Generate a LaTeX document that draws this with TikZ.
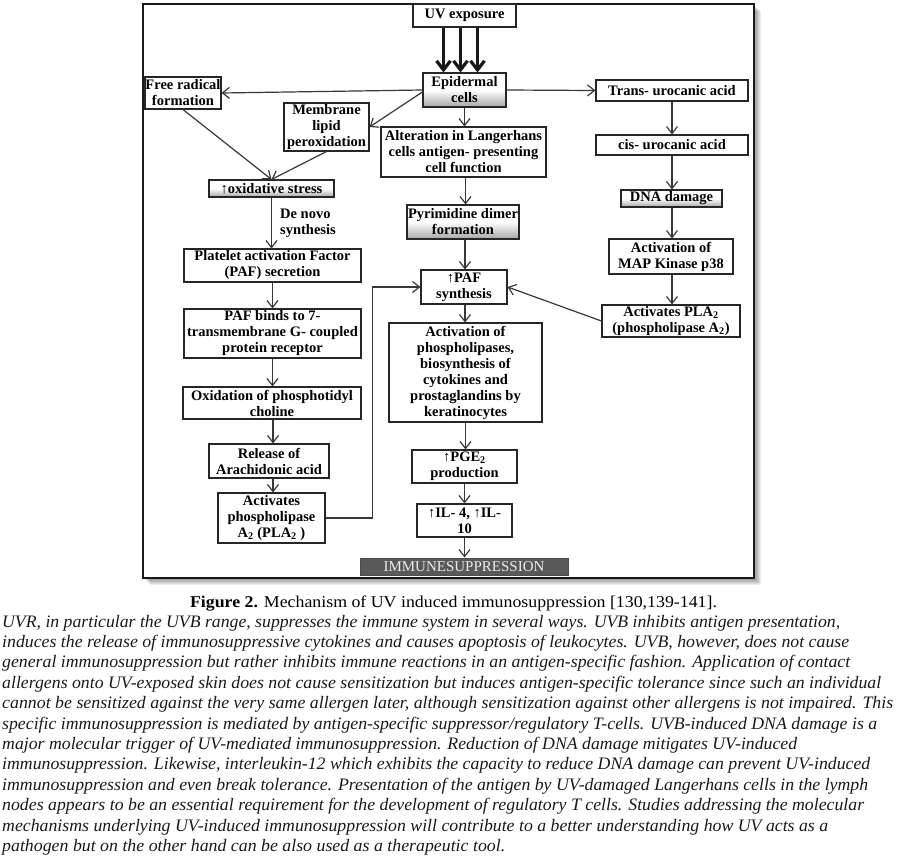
\documentclass[tikz,border=0pt]{standalone}
\usepackage{fontspec}
\setmainfont{Liberation Serif}
\usepackage{graphicx}
\usetikzlibrary{arrows.meta,calc}
\definecolor{boxc}{HTML}{262626}
\definecolor{linec}{HTML}{383838}
\newlength\fitwd
\newcommand\fitline[2]{\settowidth\fitwd{#2}\pgfmathsetmacro\fitsx{#1/\fitwd}\scalebox{\fitsx}[1]{#2}}
\newcommand\diagfont{\fontsize{14.5}{16}\selectfont\bfseries}
\newcommand\bodyfnt{\fontsize{17.5}{20}\selectfont\itshape}
\tikzset{
  box/.style={draw=boxc, line width=1.1pt, inner sep=0pt, align=center, font=\diagfont, text=black, fill=white},
  grad/.style={box, top color=white, bottom color=black!35, middle color=white},
  conn/.style={draw=linec, line width=1.2pt, -{Straight Barb[length=7pt,width=11pt]}},
  uvarrow/.style={draw=black!90, line width=3.2pt, -{Straight Barb[length=9pt,width=14pt]}},
  bodyline/.style={anchor=base west, inner sep=0pt, font=\bodyfnt, text=black!90},
}
\begin{document}
\begin{tikzpicture}[x=1pt,y=-1pt]
\useasboundingbox (0,0) rectangle (902,862);
% frame with shadow
\foreach \d in {7,6,5,4,3,2} {
  \fill[black,opacity=0.07] ({143+\d},{4+\d}) rectangle ({754+\d},{578+\d});
}
\draw[fill=white, line width=1.3pt, draw=black!90] (143,4) rectangle (754,578);

% nodes
\node[box, minimum width=103pt, minimum height=23pt] (uv) at (464.5,15.5) {UV exposure};
\node[grad, minimum width=83pt, minimum height=34pt] (epi) at (464.5,90) {Epidermal\\cells};
\node[box, minimum width=76pt, minimum height=32pt] (free) at (183,93) {Free radical\\formation};
\node[box, minimum width=85pt, minimum height=48pt] (mem) at (326.5,127) {Membrane\\lipid\\peroxidation};
\node[box, minimum width=152pt, minimum height=21pt] (trans) at (672,90.5) {Trans- urocanic acid};
\node[box, minimum width=165pt, minimum height=50pt] (alt) at (463.5,152) {Alteration in Langerhans\\cells antigen- presenting\\cell function};
\node[box, minimum width=152pt, minimum height=20pt] (cis) at (672,145) {cis- urocanic acid};
\node[grad, minimum width=125pt, minimum height=17pt] (ox) at (271.5,188.5) {↑oxidative stress};
\node[grad, minimum width=101pt, minimum height=17pt] (dna) at (671.5,198.5) {DNA damage};
\node[grad, minimum width=112pt, minimum height=34pt] (pyr) at (463,222) {Pyrimidine dimer\\formation};
\node[box, minimum width=124pt, minimum height=35pt] (map) at (671,256.5) {Activation of\\MAP Kinase p38};
\node[box, minimum width=177pt, minimum height=33pt] (paf) at (272.5,265.5) {Platelet activation Factor\\(PAF) secretion};
\node[box, minimum width=86pt, minimum height=34pt] (pafs) at (464,287) {↑PAF\\synthesis};
\node[box, minimum width=138pt, minimum height=32pt] (pla) at (671,321) {Activates PLA\textsubscript{2}\\(phospholipase A\textsubscript{2})};
\node[box, minimum width=177pt, minimum height=49pt] (bind) at (272.5,333.5) {PAF binds to 7-\\transmembrane G- coupled\\protein receptor};
\node[box, minimum width=153pt, minimum height=99pt] (actp) at (465.5,372.5) {Activation of\\phospholipases,\\biosynthesis of\\cytokines and\\prostaglandins by\\keratinocytes};
\node[box, minimum width=178pt, minimum height=32pt] (oxid) at (272,403) {Oxidation of phosphotidyl\\choline};
\node[box, minimum width=120pt, minimum height=34pt] (rel) at (269,461) {Release of\\Arachidonic acid};
\node[box, minimum width=105pt, minimum height=33pt] (pge) at (464.5,466.5) {↑PGE\textsubscript{2}\\production};
\node[box, minimum width=107pt, minimum height=50pt] (act2) at (271.5,518) {Activates\\phospholipase\\A\textsubscript{2} (PLA\textsubscript{2} )};
\node[box, minimum width=95pt, minimum height=33pt] (il) at (464.5,520.5) {↑IL- 4, ↑IL-\\10};
\node[draw=black!70, fill=black!65, line width=1pt, inner sep=0pt, minimum width=208pt, minimum height=17pt, text=white!92!black, font=\fontsize{15}{16}\selectfont] (imm) at (464,566.5) {IMMUNESUPPRESSION};
\node[font=\diagfont, align=left, anchor=west, inner sep=0pt] (dn) at (280,223.5) {De novo\\synthesis};

% connectors
\draw[uvarrow] ([xshift=-21pt]uv.south) -- ([xshift=-21pt]epi.north);
\draw[uvarrow] ([xshift=-4pt]uv.south) -- ([xshift=-4pt]epi.north);
\draw[uvarrow] ([xshift=13pt]uv.south) -- ([xshift=13pt]epi.north);
\draw[conn] (epi.west) -- (free.east);
\draw[conn] ([yshift=-2pt]epi.west) -- (mem.east);
\draw[conn] (epi.east) -- (trans.west);
\draw[conn] (free.south) -- (ox.north);
\draw[conn] (mem.south) -- (ox.north);
\draw[conn] (ox.south) -- (ox.south |- paf.north);
\draw[conn] (paf.south) -- (paf.south |- bind.north);
\draw[conn] (bind.south) -- (bind.south |- oxid.north);
\draw[conn] ([xshift=1pt]oxid.south) -- ([xshift=1pt]oxid.south |- rel.north);
\draw[conn] ([xshift=4pt]rel.south) -- ([xshift=4pt]rel.south |- act2.north);
\draw[conn] (epi.south) -- (epi.south |- alt.north);
\draw[conn] ([xshift=2pt]alt.south) -- ([xshift=2pt]alt.south |- pyr.north);
\draw[conn] ([xshift=2pt]pyr.south) -- ([xshift=2pt]pyr.south |- pafs.north);
\draw[conn] ([xshift=1pt]pafs.south) -- ([xshift=1pt]pafs.south |- actp.north);
\draw[conn] (actp.south) -- (actp.south |- pge.north);
\draw[conn] (pge.south) -- (pge.south |- il.north);
\draw[conn] (il.south) -- (il.south |- imm.north);
\draw[conn] (trans.south) -- (trans.south |- cis.north);
\draw[conn] (cis.south) -- (cis.south |- dna.north);
\draw[conn] ([xshift=0.5pt]dna.south) -- ([xshift=0.5pt]dna.south |- map.north);
\draw[conn] ([xshift=1pt]map.south) -- ([xshift=1pt]map.south |- pla.north);
\draw[conn] (pla.west) -- (pafs.east);
\draw[conn] (act2.east) -- ++(47,0) |- (pafs.west);

% caption and text
\node[anchor=base, inner sep=0pt, font=\fontsize{16.5}{18}\selectfont] (cap) at (453.5,607) {\fitline{527}{\textbf{Figure 2.} Mechanism of UV induced immunosuppression [130,139-141].}};
\node[bodyline] (l1) at (2,627) {\fitline{838}{UVR, in particular the UVB range, suppresses the immune system in several ways. UVB inhibits antigen presentation,}};
\node[bodyline] (l2) at (2,647.4) {\fitline{847}{induces the release of immunosuppressive cytokines and causes apoptosis of leukocytes. UVB, however, does not cause}};
\node[bodyline] (l3) at (2,667.8) {\fitline{848}{general immunosuppression but rather inhibits immune reactions in an antigen-specific fashion. Application of contact}};
\node[bodyline] (l4) at (2,688.2) {\fitline{879}{allergens onto UV-exposed skin does not cause sensitization but induces antigen-specific tolerance since such an individual}};
\node[bodyline] (l5) at (2,708.6) {\fitline{891}{cannot be sensitized against the very same allergen later, although sensitization against other allergens is not impaired. This}};
\node[bodyline] (l6) at (2,729) {\fitline{875}{specific immunosuppression is mediated by antigen-specific suppressor/regulatory T-cells. UVB-induced DNA damage is a}};
\node[bodyline] (l7) at (2,749.4) {\fitline{795}{major molecular trigger of UV-mediated immunosuppression. Reduction of DNA damage mitigates UV-induced}};
\node[bodyline] (l8) at (2,769.8) {\fitline{868}{immunosuppression. Likewise, interleukin-12 which exhibits the capacity to reduce DNA damage can prevent UV-induced}};
\node[bodyline] (l9) at (2,790.2) {\fitline{866}{immunosuppression and even break tolerance. Presentation of the antigen by UV-damaged Langerhans cells in the lymph}};
\node[bodyline] (l10) at (2,810.6) {\fitline{862}{nodes appears to be an essential requirement for the development of regulatory T cells. Studies addressing the molecular}};
\node[bodyline] (l11) at (2,831) {\fitline{826}{mechanisms underlying UV-induced immunosuppression will contribute to a better understanding how UV acts as a}};
\node[bodyline] (l12) at (2,851.4) {\fitline{503}{pathogen but on the other hand can be also used as a therapeutic tool.}};
\end{tikzpicture}
\end{document}
